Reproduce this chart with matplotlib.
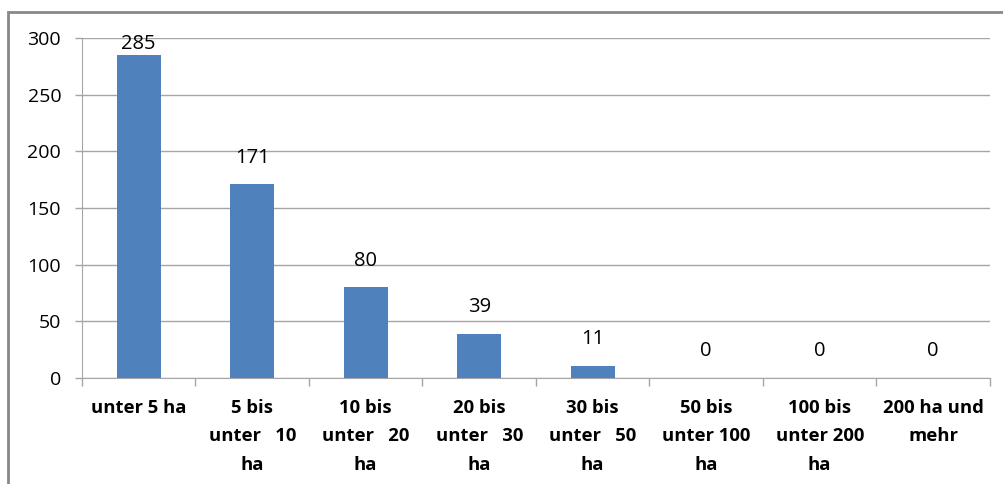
import matplotlib.pyplot as plt
from matplotlib.patches import Rectangle

plt.rcParams['font.family'] = ['Open Sans', 'DejaVu Sans']

categories = ['unter 5 ha', '5 bis\nunter   10\nha', '10 bis\nunter   20\nha',
              '20 bis\nunter   30\nha', '30 bis\nunter   50\nha',
              '50 bis\nunter 100\nha', '100 bis\nunter 200\nha', '200 ha und\nmehr']
values = [285, 171, 80, 39, 11, 0, 0, 0]
y_ticks = [0, 50, 100, 150, 200, 250, 300]

bar_color = '#4F81BD'
grid_color = '#A6A6A6'

fig = plt.figure(figsize=(10.04, 4.84), dpi=100)
ax = fig.add_axes([82 / 1004, 1 - 378 / 484, 908 / 1004, 340 / 484])

x = list(range(len(categories)))
ax.bar(x, values, width=0.39, color=bar_color, zorder=3)

ax.set_xlim(-0.5, len(categories) - 0.5)
ax.set_ylim(0, 300)
ax.set_yticks(y_ticks)
ax.set_yticklabels([str(v) for v in y_ticks], fontsize=14)
ax.yaxis.grid(True, color=grid_color, linewidth=1)
ax.set_axisbelow(True)
ax.tick_params(axis='y', length=5, width=1, color=grid_color, pad=10)

# ticks at category boundaries, labels centered
ax.set_xticks([i - 0.5 for i in range(len(categories) + 1)])
ax.set_xticklabels([])
ax.set_xticks(x, minor=True)
ax.set_xticklabels(categories, minor=True, fontsize=13.3, fontweight='bold',
                   linespacing=1.75, va='top')
ax.tick_params(axis='x', which='major', length=6, width=1, color=grid_color)
ax.tick_params(axis='x', which='minor', length=0, pad=15)

for side in ['top', 'right']:
    ax.spines[side].set_visible(False)
ax.spines['left'].set_color(grid_color)
ax.spines['bottom'].set_color(grid_color)

# value labels
for xi, v in zip(x, values):
    if v > 270:
        ax.annotate(str(v), (xi, 300), xytext=(0, -4), textcoords='offset points',
                    ha='center', va='center', fontsize=14.5)
    else:
        ax.annotate(str(v), (xi, v), xytext=(0, 12), textcoords='offset points',
                    ha='center', va='bottom', fontsize=14.5)

# chart frame (cropped at right and bottom)
fig.patches.append(Rectangle((8 / 1004, -0.1), 1.2, 1.1 - 12 / 484,
                             transform=fig.transFigure, fill=False,
                             edgecolor='#888888', linewidth=2))

fig.savefig('out.png', dpi=100)
